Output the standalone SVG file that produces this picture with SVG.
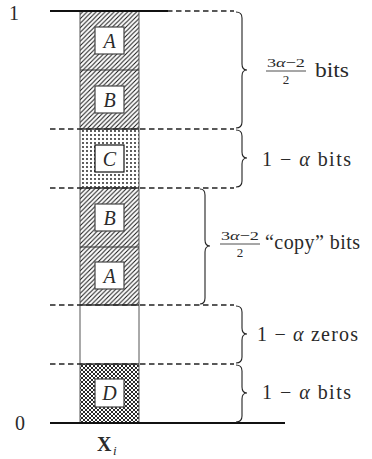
<svg xmlns="http://www.w3.org/2000/svg" width="372" height="459" viewBox="0 0 372 459">
<style>
.t{font-family:"Liberation Serif","DejaVu Serif",serif;fill:#2a2a2a;font-size:20px}
.s{font-size:13px}
.i{font-style:italic}
.col{stroke:#555;stroke-width:1;fill:none}
.sep{stroke:#333;stroke-width:1.2}
.dash{stroke:#222;stroke-width:1.6;stroke-dasharray:5.5 3.5;fill:none}
.solid{stroke:#111;stroke-width:2;fill:none}
.box{fill:#fff;stroke:#444;stroke-width:1.2}
.brace{fill:none;stroke:#222;stroke-width:1.1}
</style>
<defs>
<pattern id="hatch" width="4.5" height="4.5" patternUnits="userSpaceOnUse">
<path d="M-1,1 l2,-2 M0,4.5 l4.5,-4.5 M3.5,5.5 l2,-2" stroke="#111" stroke-width="1"/>
</pattern>
<pattern id="dots" width="4" height="4" patternUnits="userSpaceOnUse" x="1" y="1">
<circle cx="2" cy="2" r="0.9" fill="#111"/>
</pattern>
<pattern id="cross" width="4" height="4" patternUnits="userSpaceOnUse">
<path d="M-1,1 l2,-2 M0,4 l4,-4 M3,5 l2,-2 M-1,3 l2,2 M0,0 l4,4 M3,-1 l2,2" stroke="#111" stroke-width="0.9"/>
</pattern>
</defs>
<g id="seg-A1"><rect x="80" y="11" width="59" height="59" fill="url(#hatch)"/><rect class="box" x="95" y="27" width="29" height="27"/><text class="t i" x="109.5" y="48" text-anchor="middle">A</text></g>
<g id="seg-B1"><rect x="80" y="70" width="59" height="59" fill="url(#hatch)"/><rect class="box" x="95" y="86" width="29" height="27"/><text class="t i" x="109.5" y="107" text-anchor="middle">B</text></g>
<g id="seg-C"><rect x="80" y="129" width="59" height="59" fill="url(#dots)"/><rect class="box" x="95" y="145" width="29" height="27" style="stroke:#111"/><text class="t i" x="109.5" y="166" text-anchor="middle">C</text></g>
<g id="seg-B2"><rect x="80" y="188" width="59" height="59" fill="url(#hatch)"/><rect class="box" x="95" y="204" width="29" height="27"/><text class="t i" x="109.5" y="225" text-anchor="middle">B</text></g>
<g id="seg-A2"><rect x="80" y="247" width="59" height="58" fill="url(#hatch)"/><rect class="box" x="95" y="262" width="29" height="27"/><text class="t i" x="109.5" y="283" text-anchor="middle">A</text></g>
<g id="seg-zero"><rect x="80" y="305" width="59" height="59" fill="#fff"/></g>
<g id="seg-D"><rect x="80" y="364" width="59" height="59" fill="url(#cross)"/><rect class="box" x="95" y="379" width="29" height="28"/><text class="t i" x="109.5" y="400" text-anchor="middle">D</text></g>
<g id="connectors">
<line class="col" x1="80" y1="11" x2="80" y2="423"/>
<line class="col" x1="139" y1="11" x2="139" y2="423"/>
<line class="sep" x1="80" y1="70" x2="139" y2="70"/>
<line class="sep" x1="80" y1="247" x2="139" y2="247"/>
<line class="dash" x1="50" y1="11" x2="234" y2="11"/>
<line class="solid" x1="50" y1="11" x2="168" y2="11"/>
<line class="dash" x1="50" y1="129" x2="234" y2="129"/>
<line class="sep" x1="80" y1="129" x2="139" y2="129" style="stroke-width:1.6"/>
<line class="dash" x1="50" y1="188" x2="234" y2="188"/>
<line class="sep" x1="80" y1="188" x2="139" y2="188" style="stroke-width:1.6"/>
<line class="dash" x1="50" y1="305" x2="234" y2="305"/>
<line class="sep" x1="80" y1="305" x2="139" y2="305" style="stroke-width:1.6"/>
<line class="dash" x1="50" y1="364" x2="234" y2="364"/>
<line class="sep" x1="80" y1="364" x2="139" y2="364" style="stroke-width:1.6"/>
<line class="solid" x1="50" y1="423" x2="285" y2="423"/>
<path class="brace" d="M236,12 Q242,12 242,18 L242,64 Q242,70 247,70 Q242,70 242,76 L242,122 Q242,128 236,128"/>
<path class="brace" d="M236,130 Q242,130 242,136 L242,152 Q242,158 247,158 Q242,158 242,164 L242,181 Q242,187 236,187"/>
<path class="brace" d="M200,189 Q205,189 205,195 L205,240 Q205,246 210,246 Q205,246 205,252 L205,298 Q205,304 200,304"/>
<path class="brace" d="M236,306 Q242,306 242,312 L242,328 Q242,334 247,334 Q242,334 242,340 L242,357 Q242,363 236,363"/>
<path class="brace" d="M236,365 Q242,365 242,371 L242,387 Q242,393 247,393 Q242,393 242,399 L242,416 Q242,422 236,422"/>
</g>
<g id="labels">
<text class="t" x="14" y="20" text-anchor="middle">1</text>
<text class="t" x="20" y="430" text-anchor="middle">0</text>
<text class="t" x="97" y="451" font-weight="bold">X</text><text class="t i s" x="113" y="455">i</text>
<text class="t s" x="267" y="67" textLength="38" lengthAdjust="spacingAndGlyphs">3<tspan class="i">α</tspan>−2</text>
<line x1="266" y1="71" x2="306" y2="71" stroke="#222" stroke-width="0.8"/>
<text class="t s" x="286" y="84" text-anchor="middle">2</text>
<text class="t" x="315" y="77" textLength="34" lengthAdjust="spacingAndGlyphs">bits</text>
<text class="t" x="262" y="166" textLength="89" lengthAdjust="spacing">1 − <tspan class="i">α</tspan> bits</text>
<text class="t s" x="221" y="240" textLength="38" lengthAdjust="spacingAndGlyphs">3<tspan class="i">α</tspan>−2</text>
<text class="t s" x="240" y="257" text-anchor="middle">2</text>
<line x1="220" y1="244" x2="260" y2="244" stroke="#222" stroke-width="0.8"/>
<text class="t" x="265" y="249" textLength="95" lengthAdjust="spacing">“copy” bits</text>
<text class="t" x="257" y="341" textLength="101" lengthAdjust="spacing">1 − <tspan class="i">α</tspan> zeros</text>
<text class="t" x="262" y="399" textLength="89" lengthAdjust="spacing">1 − <tspan class="i">α</tspan> bits</text>
</g>
</svg>
